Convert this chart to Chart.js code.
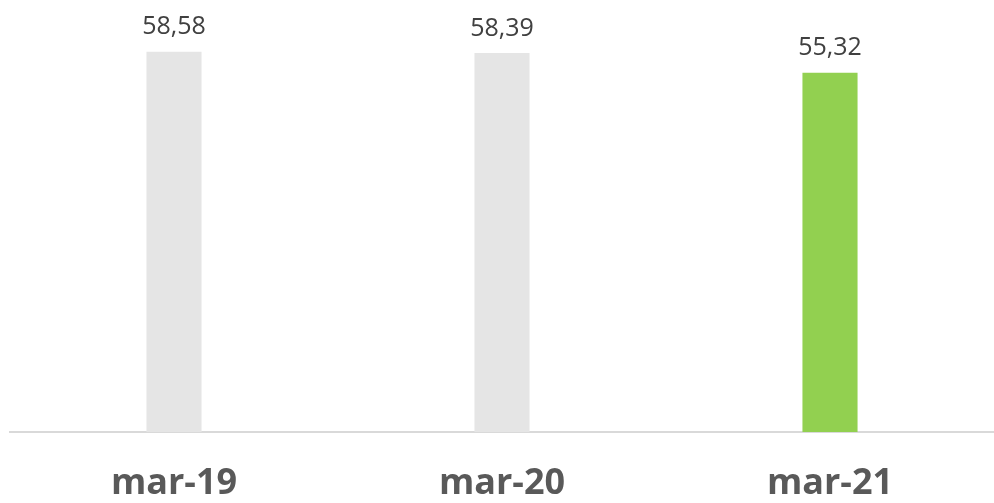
<!DOCTYPE html>
<html>
<head>
<meta charset="utf-8">
<script src="https://cdn.jsdelivr.net/npm/chart.js@4"></script>
<style>
  html, body { margin: 0; padding: 0; background: #fff; }
  #wrap { width: 994px; height: 503px; }
</style>
</head>
<body>
<div id="wrap"><canvas id="barChart"></canvas></div>
<script>
const categories = ['mar-19', 'mar-20', 'mar-21'];
const values = [58.58, 58.39, 55.32];
const valueLabels = ['58,58', '58,39', '55,32'];
const barColors = ['#e5e5e5', '#e5e5e5', '#92d050'];

// draws the value above each bar
const valueLabelPlugin = {
    id: 'valueLabels',
    afterDatasetsDraw(chart) {
        const ctx = chart.ctx;
        const meta = chart.getDatasetMeta(0);
        ctx.save();
        ctx.font = '25px "Open Sans", sans-serif';
        ctx.fillStyle = '#404040';
        ctx.textAlign = 'center';
        ctx.textBaseline = 'bottom';
        meta.data.forEach((bar, i) => {
            ctx.fillText(valueLabels[i], bar.x, bar.y - 12);
        });
        ctx.restore();
    }
};

const ctx = document.getElementById('barChart').getContext('2d');
new Chart(ctx, {
    type: 'bar',
    data: {
        labels: categories,
        datasets: [{
            data: values,
            backgroundColor: barColors,
            borderWidth: 0,
            categoryPercentage: 1,
            barPercentage: 0.168
        }]
    },
    options: {
        responsive: true,
        maintainAspectRatio: false,
        animation: false,
        layout: { padding: { left: 10, top: 10, right: -6, bottom: 0 } },
        plugins: { legend: { display: false }, tooltip: { enabled: false } },
        scales: {
            x: {
                grid: { display: false },
                border: { display: true, color: '#d9d9d9', width: 2 },
                afterFit: (scale) => { scale.height = 71; },
                ticks: {
                    color: '#595959',
                    padding: 22,
                    maxRotation: 0,
                    font: { family: '"Open Sans", sans-serif', size: 36, weight: 'bold' }
                }
            },
            y: {
                display: false,
                min: 0,
                max: 65
            }
        }
    },
    plugins: [valueLabelPlugin]
});
</script>
</body>
</html>
